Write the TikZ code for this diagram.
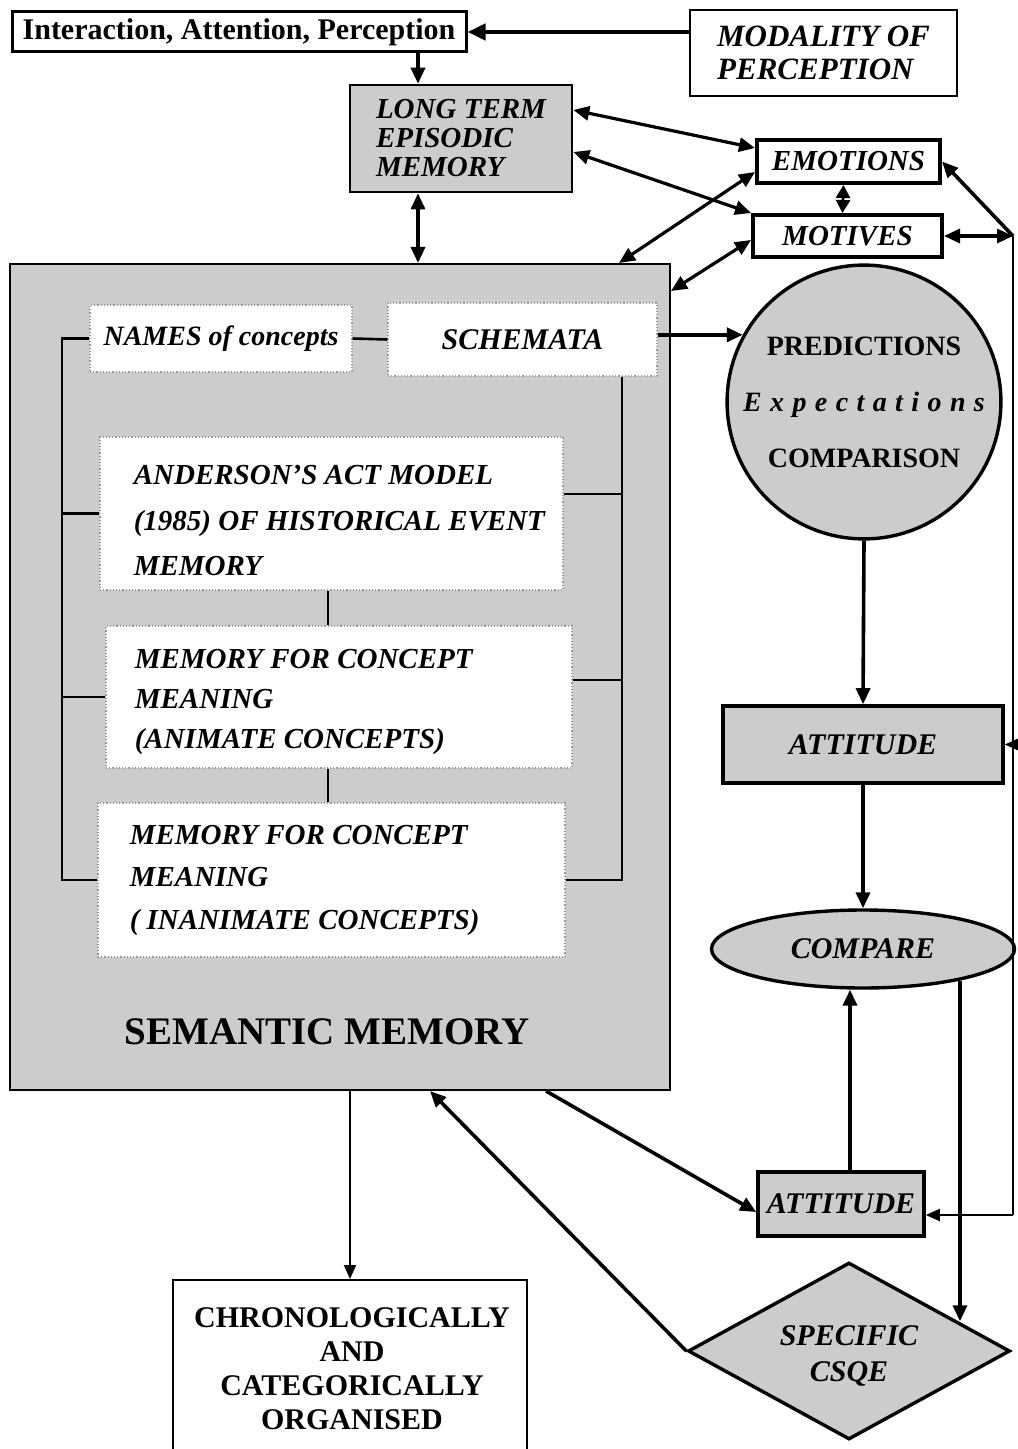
\documentclass[tikz,border=0pt]{standalone}
\usepackage{fontspec}
\setmainfont{Liberation Serif}
\usetikzlibrary{arrows.meta,shapes.geometric,calc}
\definecolor{fillg}{gray}{0.80}
\begin{document}
\begin{tikzpicture}[x=0.5pt,y=-0.5pt,
  box/.style={draw, rectangle, inner sep=0pt},
  gf/.style={fill=fillg},
  bi14/.style={font=\fontsize{14.5pt}{14.5pt}\selectfont\bfseries\itshape},
  bi15/.style={font=\fontsize{15pt}{15pt}\selectfont\bfseries\itshape},
  inbox/.style={rectangle, fill=white, draw=black!40, densely dotted, line width=0.6pt, inner sep=0pt},
  tip/.style={Triangle[length=8pt,width=7pt]},
  ar/.style={line width=1.8pt, -{Triangle[length=8pt,width=7pt]}},
  thinar/.style={line width=1pt, -{Triangle[length=7pt,width=6pt]}},
  bi/.style={line width=1.6pt, {Triangle[length=8pt,width=7pt]}-{Triangle[length=8pt,width=7pt]}},
  br/.style={line width=1.3pt},
  intext/.style={anchor=west, align=left, inner sep=0pt}
]
\fill[white] (0,0) rectangle (1017,1449);
\useasboundingbox (0,0) rectangle (1017,1449);

% top boxes
\node[box, line width=1.5pt, minimum width=227pt, minimum height=20pt,
  font=\fontsize{15pt}{15pt}\selectfont\bfseries] (iap) at (239,32) {Interaction, Attention, Perception};
\node[box, line width=1pt, minimum width=133.5pt, minimum height=43pt, align=left,
  font=\fontsize{15.5pt}{16.5pt}\selectfont\bfseries\itshape] (mod) at (823.5,53) {MODALITY OF\\PERCEPTION};
\node[box, gf, line width=1.3pt, minimum width=111pt, minimum height=53.5pt, align=left, bi14] (ltem) at (461,138.5) {LONG TERM\\EPISODIC\\MEMORY};
\node[box, fill=white, line width=2pt, minimum width=91.5pt, minimum height=21.5pt, bi14] (emo) at (848.5,161.5) {EMOTIONS};
\node[box, fill=white, line width=2pt, minimum width=94.5pt, minimum height=21pt, bi14] (mot) at (847.5,236) {MOTIVES};

% semantic memory
\node[box, gf, line width=1pt, minimum width=330pt, minimum height=413pt] (sm) at (340,677) {};
\node[inbox, minimum width=131pt, minimum height=33.5pt, font=\fontsize{14pt}{14pt}\selectfont\bfseries\itshape] (names) at (221,338.5) {NAMES of concepts};
\node[inbox, minimum width=134.5pt, minimum height=36.5pt, bi15] (schem) at (522.5,339.5) {SCHEMATA};
\node[inbox, minimum width=231.5pt, minimum height=76.5pt] (and) at (331.5,513.5) {};
\node[inbox, minimum width=233pt, minimum height=71pt] (mc1) at (339,697) {};
\node[inbox, minimum width=233.5pt, minimum height=77pt] (mc2) at (331.5,880) {};
\node[intext, font=\fontsize{14.5pt}{22.75pt}\selectfont\bfseries\itshape] (andT) at ([xshift=17pt,yshift=-3.75pt]and.west) {ANDERSON'S ACT MODEL\\(1985) OF HISTORICAL EVENT\\MEMORY};
\node[intext, font=\fontsize{14.5pt}{20pt}\selectfont\bfseries\itshape] (mc1T) at ([xshift=14.5pt,yshift=-2.5pt]mc1.west) {MEMORY FOR CONCEPT\\MEANING\\(ANIMATE CONCEPTS)};
\node[intext, font=\fontsize{14.5pt}{21.25pt}\selectfont\bfseries\itshape] (mc2T) at ([xshift=16pt]mc2.west) {MEMORY FOR CONCEPT\\MEANING\\( INANIMATE CONCEPTS)};
\node[inner sep=0pt, font=\fontsize{19.5pt}{20pt}\selectfont\bfseries] (smT) at (327,1032) {SEMANTIC MEMORY};

% bracket lines
\coordinate (bl) at (62,0);
\coordinate (brr) at (622,0);
\coordinate (xv) at (328,0);
\draw[br] (names.west) -- (names.west -| bl) -- (mc2.west -| bl) -- (mc2.west);
\draw[br] (and.west -| bl) -- (and.west);
\draw[br] (mc1.west -| bl) -- (mc1.west);
\draw[br] (names.east) -- (schem.west);
\draw[br] (schem.south -| brr) -- (mc2.east -| brr) -- (mc2.east);
\draw[br] ([yshift=9.75pt]and.east) -- ++(29.5pt,0);
\draw[br] ([yshift=8.5pt]mc1.east) -- ++(25pt,0);
\draw[br] (and.south -| xv) -- (mc1.north -| xv);
\draw[br] (mc1.south -| xv) -- (mc2.north -| xv);

% right column
\node[circle, draw, gf, line width=1.7pt, minimum size=133pt, inner sep=0pt, align=center,
  font=\fontsize{14pt}{28pt}\selectfont\bfseries] (pred) at (864,402)
  {PREDICTIONS\\{\itshape\addfontfeature{LetterSpace=30}Expectations}\\COMPARISON};
\node[box, gf, line width=1.8pt, minimum width=140pt, minimum height=38.5pt, bi15] (att1) at (863,744.5) {ATTITUDE};
\node[ellipse, draw, gf, line width=1.7pt, minimum width=151.5pt, minimum height=39pt, inner sep=0pt, bi15] (cmp) at (863,949) {COMPARE};
\node[box, gf, line width=1.8pt, minimum width=83pt, minimum height=32pt, bi15] (att2) at (841,1204) {ATTITUDE};
\node[diamond, aspect=1.8, draw, gf, line width=1.7pt, minimum width=161pt, minimum height=88.5pt, inner sep=0pt] (csqe) at (849,1351) {};
\node[align=center, inner sep=0pt, font=\fontsize{15pt}{18pt}\selectfont\bfseries\itshape] (csqeT) at (849,1356) {SPECIFIC\\CSQE};

% bottom box
\node[box, line width=1pt, minimum width=177pt, minimum height=88pt] (chrono) at (350,1368) {};
\node[align=center, inner sep=0pt, font=\fontsize{15pt}{17pt}\selectfont\bfseries] (chronoT) at (352,1369) {CHRONOLOGICALLY\\AND\\CATEGORICALLY\\ORGANISED};

% connectors
\coordinate (xa) at (418,0);
\coordinate (xc) at (850,0);
\draw[line width=2.2pt, -{Triangle[length=9pt,width=8pt]}] (iap.east -| mod.west) -- (iap.east);
\draw[ar] (iap.south -| xa) -- (ltem.north -| xa);
\draw[bi] (ltem.south -| xa) -- (sm.north -| xa);
\draw[bi] ([yshift=14.25pt]ltem.east) -- ([yshift=6.75pt]emo.west);
\draw[bi] ([yshift=-6.75pt]ltem.east) -- (mot.north west);
\draw[bi] ([xshift=-26pt]sm.north east) -- ([yshift=-5.25pt]emo.west);
\draw[bi] ([yshift=-14pt]sm.north east) -- ([yshift=-2pt]mot.west);
\draw[line width=1.4pt, {Triangle[length=6.5pt,width=7pt]}-{Triangle[length=6.5pt,width=7pt]}] ([xshift=-2.5pt]emo.south) -- ([xshift=-2.5pt]mot.north);
\coordinate (R) at (1013,236);
\coordinate (Rb) at (1013,1215);
\draw[bi] (mot.east) -- (R);
\draw[ar] (R) -- (emo.east);
\draw[line width=1.1pt] (R) -- (Rb);
\draw[thinar] (att1.east -| R) -- (att1.east);
\draw[thinar] (Rb) -- (Rb -| att2.east);
\draw[ar] (schem.east |- pred.151) -- (pred.151);
\draw[ar] (pred.south) -- (att1.north);
\draw[ar] (att1.south) -- (cmp.north);
\draw[ar] (att2.north -| xc) -- (cmp.south -| xc);
\coordinate (cd) at ($(csqe.north)!0.67!(csqe.east)$);
\draw[ar] (cmp.-18) -- (cmp.-18 |- cd);
\draw[ar] ([xshift=-62.5pt]sm.south east) -- ([yshift=-4pt]att2.west);
\draw[ar] (csqe.west) -- ([xshift=45pt]sm.south);
\draw[thinar] (chrono.north |- sm.south) -- (chrono.north);
\end{tikzpicture}
\end{document}
